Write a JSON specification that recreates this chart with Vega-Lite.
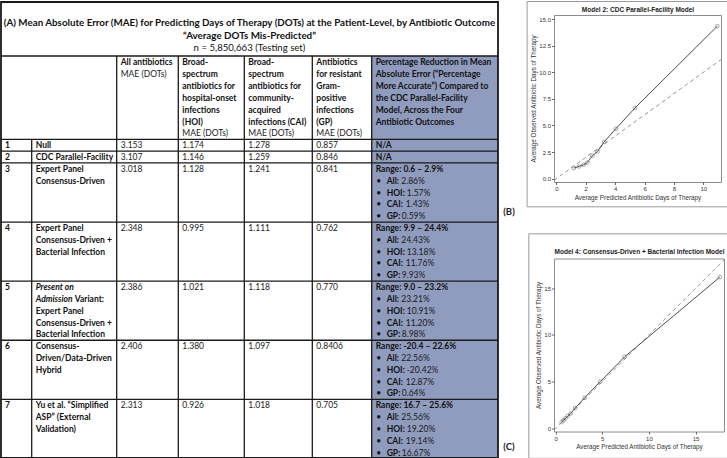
{
  "$schema": "https://vega.github.io/schema/vega-lite/v6.json",
  "padding": 0,
  "spacing": 6,
  "config": {
    "view": {"stroke": null},
    "font": "Lato",
    "axis": {"labelFont": "Liberation Sans", "titleFont": "Liberation Sans", "labelFontSize": 6, "titleFontSize": 6.3, "titleFontWeight": "normal", "labelColor": "#333", "titleColor": "#333", "tickSize": 2.5, "tickColor": "#666", "domain": false, "grid": false, "labelPadding": 1, "titlePadding": 2.5}
  },
  "hconcat": [
    {
      "width": 520,
      "height": 444,
      "encoding": {
        "x": {"field": "col", "type": "quantitative", "axis": null, "scale": {"domain": [0, 1, 2, 3, 4, 5, 6, 7, 8], "range": [1, 31.7, 116.7, 178.3, 244.3, 312.3, 371.7, 498, 520], "nice": false, "zero": false}},
        "y": {"field": "line", "type": "quantitative", "axis": null, "scale": {"domain": [-5.203, 33.545], "range": [-14, 444], "nice": false, "zero": false}}
      },
      "layer": [
        {
          "data": {"values": [{"col": 6, "col2": 7, "line": -0.55, "line2": 33.45}]},
          "mark": {"type": "rect", "fill": "#8f9cbe"},
          "encoding": {"x2": {"field": "col2"}, "y2": {"field": "line2"}}
        },
        {
          "data": {"values": [
            {"line": -0.55, "col": 0, "col2": 7}, {"line": 6.5, "col": 0, "col2": 7}, {"line": 7.5, "col": 0, "col2": 7},
            {"line": 8.5, "col": 0, "col2": 7}, {"line": 13.5, "col": 0, "col2": 7}, {"line": 18.5, "col": 0, "col2": 7},
            {"line": 23.5, "col": 0, "col2": 7}, {"line": 28.5, "col": 0, "col2": 7}
          ]},
          "mark": {"type": "rule", "color": "#1a1a1a", "strokeWidth": 1.3},
          "encoding": {"x2": {"field": "col2"}}
        },
        {
          "data": {"values": [
            {"col": 1, "line": 6.5, "line2": 33.45}, {"col": 2, "line": -0.55, "line2": 33.45},
            {"col": 3, "line": -0.55, "line2": 33.45}, {"col": 4, "line": -0.55, "line2": 33.45},
            {"col": 5, "line": -0.55, "line2": 33.45}, {"col": 6, "line": -0.55, "line2": 33.45}
          ]},
          "mark": {"type": "rule", "color": "#1a1a1a", "strokeWidth": 1.3},
          "encoding": {"y2": {"field": "line2"}}
        },
        {
          "data": {"values": [{"col": 0, "col2": 7, "line": -5.12, "line2": 33.45}]},
          "mark": {"type": "rect", "fill": null, "stroke": "#1a1a1a", "strokeWidth": 1.8},
          "encoding": {"x2": {"field": "col2"}, "y2": {"field": "line2"}}
        },
        {
          "data": {"values": [
            {"col": 4.076, "line": -3.37, "text": "(A) Mean Absolute Error (MAE) for Predicting Days of Therapy (DOTs) at the Patient-Level, by Antibiotic Outcome"},
            {"col": 4.076, "line": -2.24, "text": "“Average DOTs Mis-Predicted”"}
          ]},
          "mark": {"type": "text", "align": "center", "baseline": "middle", "fontWeight": "bold", "fontSize": 9.8, "color": "#111"},
          "encoding": {"text": {"field": "text"}}
        },
        {
          "data": {"values": [{"col": 4.076, "line": -1.25, "text": "n = 5,850,663 (Testing set)"}]},
          "mark": {"type": "text", "align": "center", "baseline": "middle", "fontSize": 9.6, "color": "#111"},
          "encoding": {"text": {"field": "text"}}
        },
        {
          "data": {"name": "cells", "values": [
            {"kind": "head", "col": 2, "line": 0, "text": "All antibiotics"},
            {"kind": "unit", "col": 2, "line": 1, "text": "MAE (DOTs)"},
            {"kind": "head", "col": 3, "line": 0, "text": "Broad-"},
            {"kind": "head", "col": 3, "line": 1, "text": "spectrum"},
            {"kind": "head", "col": 3, "line": 2, "text": "antibiotics for"},
            {"kind": "head", "col": 3, "line": 3, "text": "hospital-onset"},
            {"kind": "head", "col": 3, "line": 4, "text": "infections"},
            {"kind": "head", "col": 3, "line": 5, "text": "(HOI)"},
            {"kind": "unit", "col": 3, "line": 6, "text": "MAE (DOTs)"},
            {"kind": "head", "col": 4, "line": 0, "text": "Broad-"},
            {"kind": "head", "col": 4, "line": 1, "text": "spectrum"},
            {"kind": "head", "col": 4, "line": 2, "text": "antibiotics for"},
            {"kind": "head", "col": 4, "line": 3, "text": "community-"},
            {"kind": "head", "col": 4, "line": 4, "text": "acquired"},
            {"kind": "head", "col": 4, "line": 5, "text": "infections (CAI)"},
            {"kind": "unit", "col": 4, "line": 6, "text": "MAE (DOTs)"},
            {"kind": "head", "col": 5, "line": 0, "text": "Antibiotics"},
            {"kind": "head", "col": 5, "line": 1, "text": "for resistant"},
            {"kind": "head", "col": 5, "line": 2, "text": "Gram-"},
            {"kind": "head", "col": 5, "line": 3, "text": "positive"},
            {"kind": "head", "col": 5, "line": 4, "text": "infections"},
            {"kind": "head", "col": 5, "line": 5, "text": "(GP)"},
            {"kind": "unit", "col": 5, "line": 6, "text": "MAE (DOTs)"},
            {"kind": "head", "col": 6, "line": 0, "text": "Percentage Reduction in Mean"},
            {"kind": "head", "col": 6, "line": 1, "text": "Absolute Error (“Percentage"},
            {"kind": "head", "col": 6, "line": 2, "text": "More Accurate”) Compared to"},
            {"kind": "head", "col": 6, "line": 3, "text": "the CDC Parallel-Facility"},
            {"kind": "head", "col": 6, "line": 4, "text": "Model, Across the Four"},
            {"kind": "head", "col": 6, "line": 5, "text": "Antibiotic Outcomes"},

            {"kind": "rownum", "col": 0, "line": 7, "text": "1"},
            {"kind": "model", "col": 1, "line": 7, "text": "Null"},
            {"kind": "mae", "col": 2, "line": 7, "text": "3.153"},
            {"kind": "mae", "col": 3, "line": 7, "text": "1.174"},
            {"kind": "mae", "col": 4, "line": 7, "text": "1.278"},
            {"kind": "mae", "col": 5, "line": 7, "text": "0.857"},
            {"kind": "na", "col": 6, "line": 7, "text": "N/A"},

            {"kind": "rownum", "col": 0, "line": 8, "text": "2"},
            {"kind": "model", "col": 1, "line": 8, "text": "CDC Parallel-Facility"},
            {"kind": "mae", "col": 2, "line": 8, "text": "3.107"},
            {"kind": "mae", "col": 3, "line": 8, "text": "1.146"},
            {"kind": "mae", "col": 4, "line": 8, "text": "1.259"},
            {"kind": "mae", "col": 5, "line": 8, "text": "0.846"},
            {"kind": "na", "col": 6, "line": 8, "text": "N/A"},

            {"kind": "rownum", "col": 0, "line": 9, "text": "3"},
            {"kind": "model", "col": 1, "line": 9, "text": "Expert Panel"},
            {"kind": "model", "col": 1, "line": 10, "text": "Consensus-Driven"},
            {"kind": "mae", "col": 2, "line": 9, "text": "3.018"},
            {"kind": "mae", "col": 3, "line": 9, "text": "1.128"},
            {"kind": "mae", "col": 4, "line": 9, "text": "1.241"},
            {"kind": "mae", "col": 5, "line": 9, "text": "0.841"},
            {"kind": "range", "col": 6, "line": 9, "text": "Range: 0.6 – 2.9%"},

            {"kind": "rownum", "col": 0, "line": 14, "text": "4"},
            {"kind": "model", "col": 1, "line": 14, "text": "Expert Panel"},
            {"kind": "model", "col": 1, "line": 15, "text": "Consensus-Driven +"},
            {"kind": "model", "col": 1, "line": 16, "text": "Bacterial Infection"},
            {"kind": "mae", "col": 2, "line": 14, "text": "2.348"},
            {"kind": "mae", "col": 3, "line": 14, "text": "0.995"},
            {"kind": "mae", "col": 4, "line": 14, "text": "1.111"},
            {"kind": "mae", "col": 5, "line": 14, "text": "0.762"},
            {"kind": "range", "col": 6, "line": 14, "text": "Range: 9.9 – 24.4%"},

            {"kind": "rownum", "col": 0, "line": 19, "text": "5"},
            {"kind": "modelEm", "col": 1, "line": 19, "text": "Present on"},
            {"kind": "modelEm", "col": 1, "line": 20, "text": "Admission"},
            {"kind": "modelTail", "col": 1, "line": 20, "text": "Variant:"},
            {"kind": "model", "col": 1, "line": 21, "text": "Expert Panel"},
            {"kind": "model", "col": 1, "line": 22, "text": "Consensus-Driven +"},
            {"kind": "model", "col": 1, "line": 23, "text": "Bacterial Infection"},
            {"kind": "mae", "col": 2, "line": 19, "text": "2.386"},
            {"kind": "mae", "col": 3, "line": 19, "text": "1.021"},
            {"kind": "mae", "col": 4, "line": 19, "text": "1.118"},
            {"kind": "mae", "col": 5, "line": 19, "text": "0.770"},
            {"kind": "range", "col": 6, "line": 19, "text": "Range: 9.0 – 23.2%"},

            {"kind": "rownum", "col": 0, "line": 24, "text": "6"},
            {"kind": "model", "col": 1, "line": 24, "text": "Consensus-"},
            {"kind": "model", "col": 1, "line": 25, "text": "Driven/Data-Driven"},
            {"kind": "model", "col": 1, "line": 26, "text": "Hybrid"},
            {"kind": "mae", "col": 2, "line": 24, "text": "2.406"},
            {"kind": "mae", "col": 3, "line": 24, "text": "1.380"},
            {"kind": "mae", "col": 4, "line": 24, "text": "1.097"},
            {"kind": "mae", "col": 5, "line": 24, "text": "0.8406"},
            {"kind": "range", "col": 6, "line": 24, "text": "Range: -20.4 – 22.6%"},

            {"kind": "rownum", "col": 0, "line": 29, "text": "7"},
            {"kind": "model", "col": 1, "line": 29, "text": "Yu et al. “Simplified"},
            {"kind": "model", "col": 1, "line": 30, "text": "ASP” (External"},
            {"kind": "model", "col": 1, "line": 31, "text": "Validation)"},
            {"kind": "mae", "col": 2, "line": 29, "text": "2.313"},
            {"kind": "mae", "col": 3, "line": 29, "text": "0.926"},
            {"kind": "mae", "col": 4, "line": 29, "text": "1.018"},
            {"kind": "mae", "col": 5, "line": 29, "text": "0.705"},
            {"kind": "range", "col": 6, "line": 29, "text": "Range: 16.7 – 25.6%"}
          ]},
          "layer": [
            {
              "transform": [{"filter": "indexof(['head','rownum','model','na','range'], datum.kind) >= 0"}],
              "mark": {"type": "text", "align": "left", "baseline": "middle", "dx": 4, "fontWeight": "bold", "fontSize": 8.5, "color": "#111"},
              "encoding": {"text": {"field": "text"}}
            },
            {
              "transform": [{"filter": "datum.kind == 'unit' || datum.kind == 'mae'"}],
              "mark": {"type": "text", "align": "left", "baseline": "middle", "dx": 4, "fontSize": 8.5, "color": "#222"},
              "encoding": {"text": {"field": "text"}}
            },
            {
              "transform": [{"filter": "datum.kind == 'modelEm'"}],
              "mark": {"type": "text", "align": "left", "baseline": "middle", "dx": 4, "fontWeight": "bold", "fontStyle": "italic", "fontSize": 8.5, "color": "#111"},
              "encoding": {"text": {"field": "text"}}
            },
            {
              "transform": [{"filter": "datum.kind == 'modelTail'"}],
              "mark": {"type": "text", "align": "left", "baseline": "middle", "dx": 43, "fontWeight": "bold", "fontSize": 8.5, "color": "#111"},
              "encoding": {"text": {"field": "text"}}
            }
          ]
        },
        {
          "data": {"name": "pct", "values": [
            {"col": 6, "line": 10, "label": "All:", "value": "2.86%"},
            {"col": 6, "line": 11, "label": "HOI:", "value": "1.57%"},
            {"col": 6, "line": 12, "label": "CAI:", "value": "1.43%"},
            {"col": 6, "line": 13, "label": "GP:", "value": "0.59%"},
            {"col": 6, "line": 15, "label": "All:", "value": "24.43%"},
            {"col": 6, "line": 16, "label": "HOI:", "value": "13.18%"},
            {"col": 6, "line": 17, "label": "CAI:", "value": "11.76%"},
            {"col": 6, "line": 18, "label": "GP:", "value": "9.93%"},
            {"col": 6, "line": 20, "label": "All:", "value": "23.21%"},
            {"col": 6, "line": 21, "label": "HOI:", "value": "10.91%"},
            {"col": 6, "line": 22, "label": "CAI:", "value": "11.20%"},
            {"col": 6, "line": 23, "label": "GP:", "value": "8.98%"},
            {"col": 6, "line": 25, "label": "All:", "value": "22.56%"},
            {"col": 6, "line": 26, "label": "HOI:", "value": "-20.42%"},
            {"col": 6, "line": 27, "label": "CAI:", "value": "12.87%"},
            {"col": 6, "line": 28, "label": "GP:", "value": "0.64%"},
            {"col": 6, "line": 30, "label": "All:", "value": "25.56%"},
            {"col": 6, "line": 31, "label": "HOI:", "value": "19.20%"},
            {"col": 6, "line": 32, "label": "CAI:", "value": "19.14%"},
            {"col": 6, "line": 33, "label": "GP:", "value": "16.67%"}
          ]},
          "layer": [
            {
              "mark": {"type": "text", "align": "left", "baseline": "middle", "dx": 4.5, "fontSize": 8.5, "color": "#111"},
              "encoding": {"text": {"value": "•"}}
            },
            {
              "mark": {"type": "text", "align": "left", "baseline": "middle", "dx": 15, "fontWeight": "bold", "fontSize": 8.5, "color": "#111"},
              "encoding": {"text": {"field": "label"}}
            },
            {
              "transform": [{"filter": "datum.label == 'All:'"}],
              "mark": {"type": "text", "align": "left", "baseline": "middle", "dx": 29.5, "fontSize": 8.5, "color": "#1a1a1a"},
              "encoding": {"text": {"field": "value"}}
            },
            {
              "transform": [{"filter": "datum.label == 'GP:'"}],
              "mark": {"type": "text", "align": "left", "baseline": "middle", "dx": 30, "fontSize": 8.5, "color": "#1a1a1a"},
              "encoding": {"text": {"field": "value"}}
            },
            {
              "transform": [{"filter": "datum.label == 'HOI:'"}],
              "mark": {"type": "text", "align": "left", "baseline": "middle", "dx": 35, "fontSize": 8.5, "color": "#1a1a1a"},
              "encoding": {"text": {"field": "value"}}
            },
            {
              "transform": [{"filter": "datum.label == 'CAI:'"}],
              "mark": {"type": "text", "align": "left", "baseline": "middle", "dx": 34, "fontSize": 8.5, "color": "#1a1a1a"},
              "encoding": {"text": {"field": "value"}}
            }
          ]
        },
        {
          "data": {"values": [{"panel": "(B)", "col": 7.5, "line": 12.65}, {"panel": "(C)", "col": 7.5, "line": 32.5}]},
          "mark": {"type": "text", "align": "center", "baseline": "middle", "fontWeight": "bold", "fontSize": 9.5, "color": "#222"},
          "encoding": {"text": {"field": "panel"}}
        }
      ]
    },
    {
      "vconcat": [
        {
          "width": 167,
          "height": 167,
          "view": {"stroke": "#8c8c8c", "strokeWidth": 1},
          "resolve": {"axis": {"x": "independent", "y": "independent"}},
          "layer": [
            {
              "data": {"values": [{"predicted": -1.99, "predicted2": 11.643, "observed": 16.67, "observed2": -2.655}]},
              "mark": {"type": "rect", "fill": null, "stroke": "#9a9a9a", "strokeWidth": 1},
              "encoding": {
                "x": {"field": "predicted", "type": "quantitative", "scale": {"domain": [-0.16, 11.2], "nice": false, "zero": false}, "axis": {"orient": "top", "title": "Model 2: CDC Parallel-Facility Model", "labels": false, "ticks": false, "domain": false, "titleFontWeight": "bold", "titleFontSize": 6.5, "titleColor": "#222", "titlePadding": 2.5}},
                "x2": {"field": "predicted2"},
                "y": {"field": "observed", "type": "quantitative", "scale": {"domain": [-0.32, 15.4], "nice": false, "zero": false}, "axis": null},
                "y2": {"field": "observed2"}
              }
            },
            {
              "encoding": {
                "x": {"field": "predicted", "type": "quantitative", "scale": {"domain": [-0.16, 11.2], "nice": false, "zero": false}, "axis": {"values": [0, 2, 4, 6, 8, 10], "title": "Average Predicted Antibiotic Days of Therapy"}},
                "y": {"field": "observed", "type": "quantitative", "scale": {"domain": [-0.32, 15.4], "nice": false, "zero": false}, "axis": {"values": [0, 2.5, 5, 7.5, 10, 12.5, 15], "format": ".1f", "title": "Average Observed Antibiotic Days of Therapy"}}
              },
              "layer": [
                {
                  "data": {"values": [{"predicted": -0.16, "observed": -0.16}, {"predicted": 11.2, "observed": 11.2}]},
                  "mark": {"type": "line", "strokeDash": [4, 3], "color": "#8a8a8a", "strokeWidth": 0.9}
                },
                {
                  "data": {"name": "calB", "values": [
                    {"predicted": 1.2, "observed": 1.0}, {"predicted": 1.55, "observed": 1.15}, {"predicted": 1.85, "observed": 1.3},
                    {"predicted": 2.1, "observed": 1.5}, {"predicted": 2.45, "observed": 2.15}, {"predicted": 2.8, "observed": 2.55},
                    {"predicted": 3.25, "observed": 3.45}, {"predicted": 4.05, "observed": 4.7}, {"predicted": 5.35, "observed": 6.65},
                    {"predicted": 10.95, "observed": 14.35}
                  ]},
                  "layer": [
                    {"mark": {"type": "line", "color": "#3a3a3a", "strokeWidth": 0.9}},
                    {"mark": {"type": "point", "filled": false, "size": 14, "color": "#555", "strokeWidth": 0.7}}
                  ]
                }
              ]
            }
          ]
        },
        {
          "width": 170,
          "height": 173,
          "view": {"stroke": "#8c8c8c", "strokeWidth": 1},
          "resolve": {"axis": {"x": "independent", "y": "independent"}},
          "layer": [
            {
              "data": {"values": [{"predicted": -2.87, "predicted2": 18.564, "observed": 20.85, "observed2": -3.235}]},
              "mark": {"type": "rect", "fill": null, "stroke": "#9a9a9a", "strokeWidth": 1},
              "encoding": {
                "x": {"field": "predicted", "type": "quantitative", "scale": {"domain": [-0.17, 18.05], "nice": false, "zero": false}, "axis": {"orient": "top", "title": "Model 4: Consensus-Driven + Bacterial Infection Model", "labels": false, "ticks": false, "domain": false, "titleFontWeight": "bold", "titleFontSize": 6.5, "titleColor": "#222", "titlePadding": 4.5}},
                "x2": {"field": "predicted2"},
                "y": {"field": "observed", "type": "quantitative", "scale": {"domain": [-0.36, 18.2], "nice": false, "zero": false}, "axis": null},
                "y2": {"field": "observed2"}
              }
            },
            {
              "encoding": {
                "x": {"field": "predicted", "type": "quantitative", "scale": {"domain": [-0.17, 18.05], "nice": false, "zero": false}, "axis": {"values": [0, 5, 10, 15], "title": "Average Predicted Antibiotic Days of Therapy"}},
                "y": {"field": "observed", "type": "quantitative", "scale": {"domain": [-0.36, 18.2], "nice": false, "zero": false}, "axis": {"values": [0, 5, 10, 15], "title": "Average Observed Antibiotic Days of Therapy"}}
              },
              "layer": [
                {
                  "data": {"values": [{"predicted": -0.17, "observed": -0.17}, {"predicted": 18.05, "observed": 18.05}]},
                  "mark": {"type": "line", "strokeDash": [4, 3], "color": "#8a8a8a", "strokeWidth": 0.9}
                },
                {
                  "data": {"name": "calC", "values": [
                    {"predicted": 0.65, "observed": 0.65}, {"predicted": 0.85, "observed": 0.85}, {"predicted": 1.05, "observed": 1.05},
                    {"predicted": 1.3, "observed": 1.3}, {"predicted": 1.6, "observed": 1.55}, {"predicted": 2.1, "observed": 2.15},
                    {"predicted": 3.1, "observed": 3.25}, {"predicted": 4.8, "observed": 5.0}, {"predicted": 7.4, "observed": 7.65},
                    {"predicted": 17.6, "observed": 16.2}
                  ]},
                  "layer": [
                    {"mark": {"type": "line", "color": "#3a3a3a", "strokeWidth": 0.9}},
                    {"mark": {"type": "point", "filled": false, "size": 14, "color": "#555", "strokeWidth": 0.7}}
                  ]
                }
              ]
            }
          ]
        }
      ],
      "spacing": 24.5
    }
  ]
}
